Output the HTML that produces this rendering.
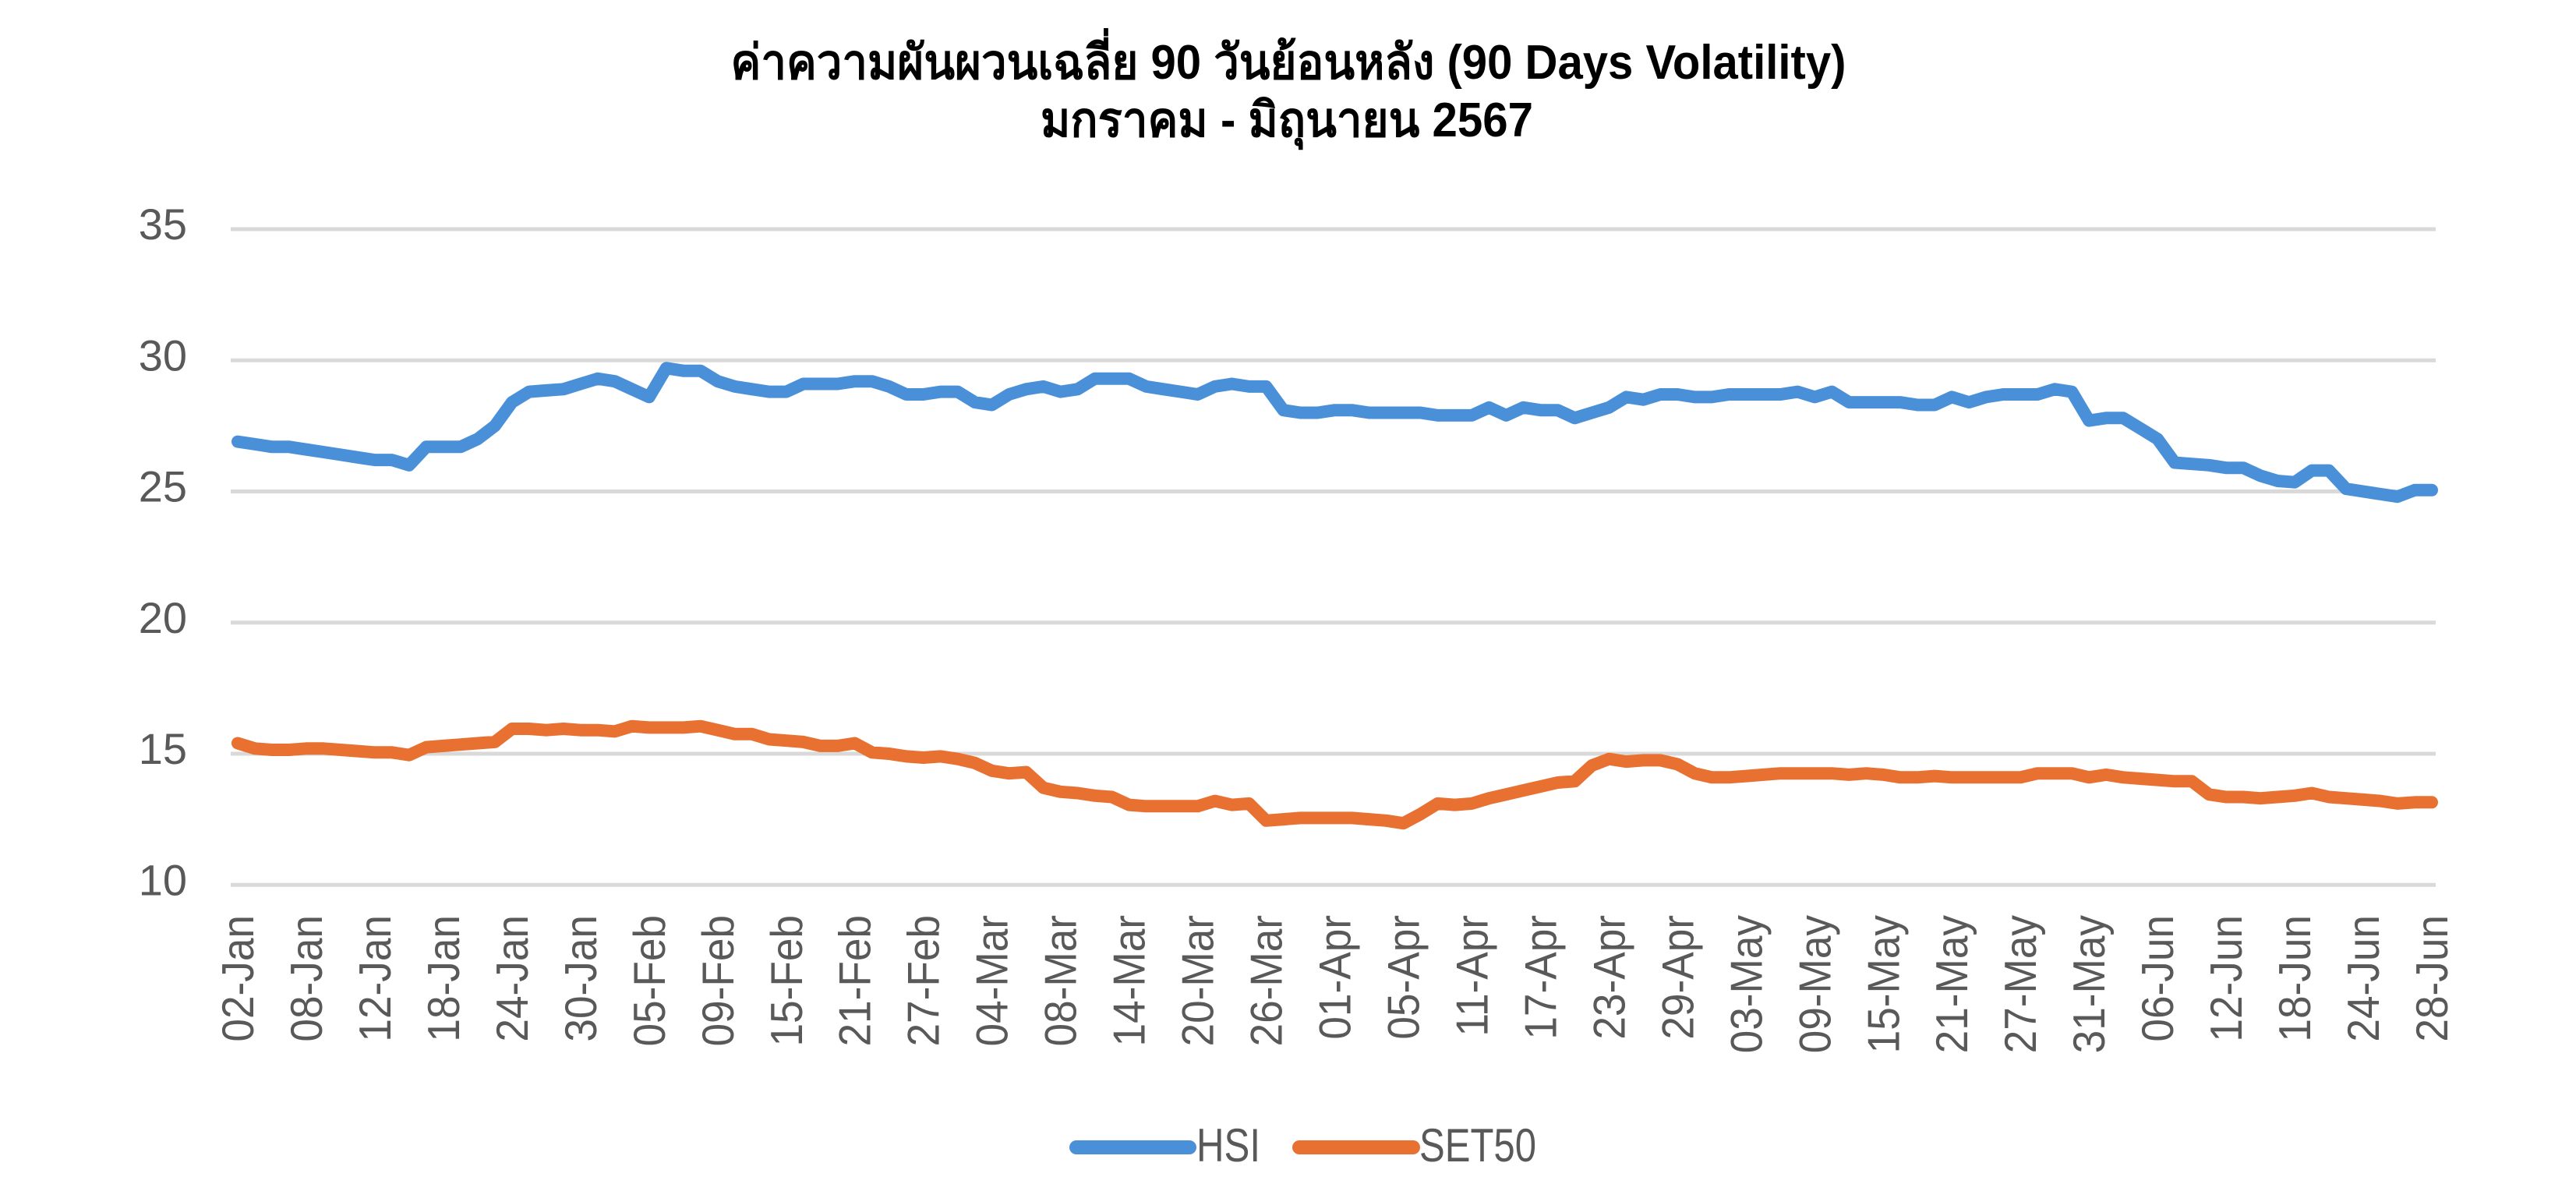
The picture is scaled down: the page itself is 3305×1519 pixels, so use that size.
<!DOCTYPE html>
<html><head><meta charset="utf-8"><style>
html,body{margin:0;padding:0;background:#fff;}
svg{display:block;}
</style></head><body>
<svg id="c" width="3305" height="1519" xmlns="http://www.w3.org/2000/svg" font-family="'Liberation Sans', 'DejaVu Sans', sans-serif">
<text x="1653" y="101" text-anchor="middle" font-weight="bold" font-size="62" fill="#000" textLength="1431" lengthAdjust="spacingAndGlyphs">ค่าความผันผวนเฉลี่ย 90 วันย้อนหลัง (90 Days Volatility)</text>
<text x="1651" y="175" text-anchor="middle" font-weight="bold" font-size="62" fill="#000" textLength="632" lengthAdjust="spacingAndGlyphs">มกราคม - มิถุนายน 2567</text>
<g id="grid"></g>
<g id="xl"></g>
<path id="hsi" fill="none" stroke="#4a90d9" stroke-width="16" stroke-linejoin="round" stroke-linecap="round"/>
<path id="set" fill="none" stroke="#e87030" stroke-width="16" stroke-linejoin="round" stroke-linecap="round"/>
<line x1="1381" y1="1472" x2="1526" y2="1472" stroke="#4a90d9" stroke-width="18" stroke-linecap="round"/>
<text x="1535" y="1490" font-size="60" fill="#595959" textLength="82" lengthAdjust="spacingAndGlyphs">HSI</text>
<line x1="1667" y1="1472" x2="1813" y2="1472" stroke="#e87030" stroke-width="18" stroke-linecap="round"/>
<text x="1821" y="1490" font-size="60" fill="#595959" textLength="150" lengthAdjust="spacingAndGlyphs">SET50</text>
</svg>
<script>
var NS="http://www.w3.org/2000/svg";
function Y(v){return 294+(35-v)*33.65;}
var g=document.getElementById('grid');
[35,30,25,20,15,10].forEach(function(v){
 var l=document.createElementNS(NS,'line');
 l.setAttribute('x1',296);l.setAttribute('x2',3125);l.setAttribute('y1',Y(v));l.setAttribute('y2',Y(v));
 l.setAttribute('stroke','#d9d9d9');l.setAttribute('stroke-width','5');g.appendChild(l);
 var t=document.createElementNS(NS,'text');
 t.setAttribute('x',240);t.setAttribute('y',Y(v)+13);t.setAttribute('text-anchor','end');
 t.setAttribute('font-size','56');t.setAttribute('fill','#595959');t.textContent=v;g.appendChild(t);
});
var X0=305,DX=(3120-305)/128;
var labels=["02-Jan","08-Jan","12-Jan","18-Jan","24-Jan","30-Jan","05-Feb","09-Feb","15-Feb","21-Feb","27-Feb","04-Mar","08-Mar","14-Mar","20-Mar","26-Mar","01-Apr","05-Apr","11-Apr","17-Apr","23-Apr","29-Apr","03-May","09-May","15-May","21-May","27-May","31-May","06-Jun","12-Jun","18-Jun","24-Jun","28-Jun"];
var xl=document.getElementById('xl');
labels.forEach(function(s,i){
 var x=X0+i*4*DX;
 var gg=document.createElementNS(NS,'g');
 gg.setAttribute('transform','translate('+(x+20)+',1174) rotate(-90) scale(0.95,1.03)');
 var t=document.createElementNS(NS,'text');
 t.setAttribute('x',0);t.setAttribute('y',0);t.setAttribute('text-anchor','end');
 t.setAttribute('font-size','56');t.setAttribute('fill','#595959');t.textContent=s;
 gg.appendChild(t);xl.appendChild(gg);
});
var hsi=[26.9,
26.8,26.7,26.7,26.6, 26.5,26.4,26.3,26.2, 26.2,26.0,26.7,26.7, 26.7,27.0,27.5,28.4,
28.8,28.85,28.9,29.1, 29.3,29.2,28.9,28.6, 29.7,29.6,29.6,29.2, 29.0,28.9,28.8,28.8,
29.1,29.1,29.1,29.2, 29.2,29.0,28.7,28.7, 28.8,28.8,28.4,28.3, 28.7,28.9,29.0,28.8,
28.9,29.3,29.3,29.3, 29.0,28.9,28.8,28.7, 29.0,29.1,29.0,29.0, 28.1,28.0,28.0,28.1,
28.1,28.0,28.0,28.0, 28.0,27.9,27.9,27.9, 28.2,27.9,28.2,28.1, 28.1,27.8,28.0,28.2,
28.6,28.5,28.7,28.7, 28.6,28.6,28.7,28.7, 28.7,28.7,28.8,28.6, 28.8,28.4,28.4,28.4,
28.4,28.3,28.3,28.6, 28.4,28.6,28.7,28.7, 28.7,28.9,28.8,27.7, 27.8,27.8,27.4,27.0,
26.1,26.05,26.0,25.9, 25.9,25.6,25.4,25.35, 25.8,25.8,25.1,25.0, 24.9,24.8,25.05,25.05];
var set=[15.4,
15.2,15.15,15.15,15.2, 15.2,15.15,15.1,15.05, 15.05,14.95,15.25,15.3, 15.35,15.4,15.45,15.95,
15.95,15.9,15.95,15.9, 15.9,15.85,16.05,16.0, 16.0,16.0,16.05,15.9, 15.75,15.75,15.55,15.5,
15.45,15.3,15.3,15.4, 15.05,15.0,14.9,14.85, 14.9,14.8,14.65,14.35, 14.25,14.3,13.7,13.55,
13.5,13.4,13.35,13.05, 13.0,13.0,13.0,13.0, 13.2,13.05,13.1,12.45, 12.5,12.55,12.55,12.55,
12.55,12.5,12.45,12.35, 12.7,13.1,13.05,13.1, 13.3,13.45,13.6,13.75, 13.9,13.95,14.55,14.8,
14.7,14.75,14.75,14.6, 14.25,14.1,14.1,14.15, 14.2,14.25,14.25,14.25, 14.25,14.2,14.25,14.2,
14.1,14.1,14.15,14.1, 14.1,14.1,14.1,14.1, 14.25,14.25,14.25,14.1, 14.2,14.1,14.05,14.0,
13.95,13.95,13.45,13.35, 13.35,13.3,13.35,13.4, 13.5,13.35,13.3,13.25, 13.2,13.1,13.15,13.15];
function path(a){return a.map(function(v,i){return (i?'L':'M')+(X0+i*DX).toFixed(1)+' '+Y(v).toFixed(1);}).join(' ');}
document.getElementById('hsi').setAttribute('d',path(hsi));
document.getElementById('set').setAttribute('d',path(set));
</script>
</body></html>
